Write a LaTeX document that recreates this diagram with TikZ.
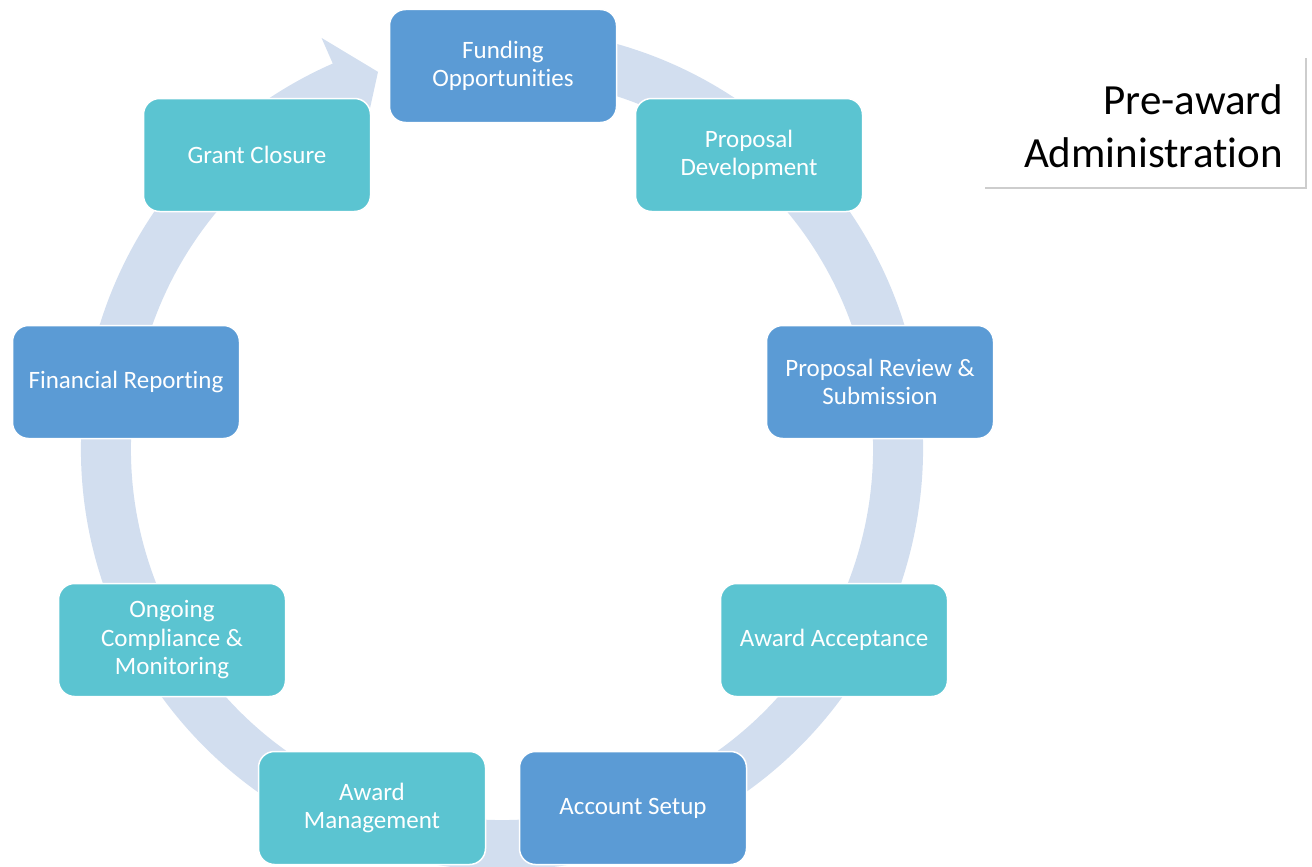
\documentclass[tikz,border=0pt]{standalone}
\usepackage{fontspec}
\setmainfont[Ligatures={NoCommon}]{Carlito}
\definecolor{dblue}{RGB}{91,155,213}
\definecolor{tealbox}{RGB}{91,196,209}
\definecolor{bandcol}{RGB}{210,222,239}
\definecolor{edgegray}{RGB}{205,205,205}
\tikzset{
  stagebox/.style={rounded corners=16pt, draw=white, line width=1.5pt, minimum width=227pt, minimum height=113pt, align=center, text=white, font=\fontsize{25}{28.5}\selectfont, inner sep=4pt},
  darkbox/.style={stagebox, fill=dblue},
  lightbox/.style={stagebox, fill=tealbox}
}
\begin{document}
\begin{tikzpicture}[x=1pt,y=-1pt]
\useasboundingbox (0,0) rectangle (1312,867);
% ring arrow
\begin{scope}[shift={(502,449)}]
\fill[bandcol] (-80:421) arc[start angle=-80, end angle=246.3, radius=421]
  -- (246.3:449) -- (251.8:397) -- (246.3:343) -- (246.3:371)
  arc[start angle=246.3, end angle=-80, radius=371] -- cycle;
\end{scope}
% stage boxes
\node[darkbox]  (fund) at (503,66)  {Funding\\Opportunities};
\node[lightbox] (dev)  at (749,155) {Proposal\\Development};
\node[darkbox]  (rev)  at (880,382) {Proposal Review \&\\Submission};
\node[lightbox] (acc)  at (834,640) {Award Acceptance};
\node[darkbox]  (set)  at (633,808) {Account Setup};
\node[lightbox] (man)  at (372,808) {Award\\Management};
\node[lightbox] (comp) at (172,640) {Ongoing\\Compliance \&\\Monitoring};
\node[darkbox]  (fin)  at (126,382) {Financial Reporting};
\node[lightbox] (clos) at (257,155) {Grant Closure};
% label box
\fill[white] (985,58) rectangle (1306,188);
\draw[edgegray, line width=1.2pt] (985,188) -- (1306,188) -- (1306,58);
\node[anchor=east, align=right, font=\fontsize{43}{53}\selectfont, inner sep=0pt] (pre) at (1283,126) {Pre-award\\Administration};
\end{tikzpicture}
\end{document}
